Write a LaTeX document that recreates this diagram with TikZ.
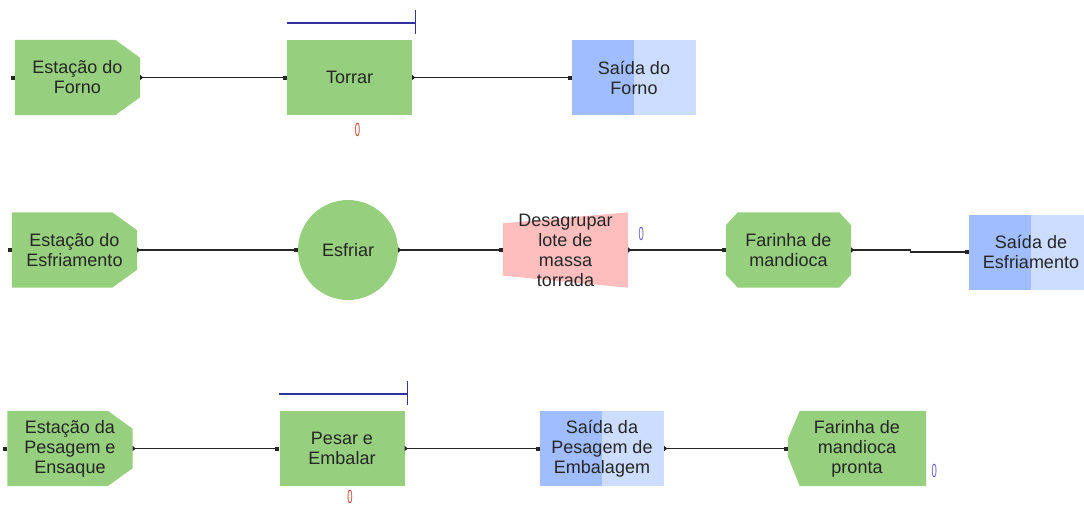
\documentclass[tikz,border=0pt]{standalone}
\usepackage{fontspec}
\setmainfont{Liberation Sans}
\usepackage{xcolor}
\usepackage{tikz}
\usetikzlibrary{arrows.meta}
\definecolor{simgreen}{RGB}{150,207,125}
\definecolor{saidadark}{RGB}{160,190,255}
\definecolor{saidalight}{RGB}{204,221,255}
\definecolor{unpink}{RGB}{255,190,190}
\definecolor{qblue}{RGB}{50,50,160}
\definecolor{cntred}{RGB}{200,70,50}
\definecolor{cntviolet}{RGB}{110,90,200}
\pgfdeclarelayer{bg}
\pgfsetlayers{bg,main}

\begin{document}
\begin{tikzpicture}[x=1pt,y=-1pt,
	every node/.style={font=\fontsize{18}{20}\selectfont, text=black!85, align=center, inner sep=0pt},
	station/.style={minimum width=125pt, minimum height=75pt},
	process/.style={station, fill=simgreen},
	exitbox/.style={station, minimum width=124pt, fill=saidalight,
		path picture={\fill[saidadark] (path picture bounding box.south west) rectangle ([xshift=62pt]path picture bounding box.north west);}},
	link/.style={line width=1.3pt, black!85, {Triangle[reversed,length=3pt,width=5pt]}-{Square[length=4pt,width=4pt]}},
	port/.style={fill=black!85, minimum size=4pt},
	queue/.style={qblue, line width=1.4pt},
	counter/.style={font=\fontsize{19}{19}\selectfont, xscale=0.5, text=cntred}]
		\useasboundingbox (0,0) rectangle (1084,506);

		%% Forno
		\node[station] (est1) at (77.5,77.5) {Esta\c{c}\~ao do\\Forno};
		\node[process] (torrar) at (349.5,77.5) {Torrar};
		\node[exitbox] (saida1) at (634,77.5) {Sa\'ida do\\Forno};

		%% Esfriamento
		\node[station] (est2) at (74.5,250) {Esta\c{c}\~ao do\\Esfriamento};
		\node[circle, fill=simgreen, minimum size=100pt] (esfriar) at (348,250) {Esfriar};
		\node[station] (desag) at (565.5,250) {Desagrupar\\lote de\\massa\\torrada};
		\node[station] (farinha) at (788.5,250) {Farinha de\\mandioca};
		\node[exitbox] (saida2) at (1031,252) {Sa\'ida de\\Esfriamento};

		%% Pesagem
		\node[station] (est3) at (70,448.5) {Esta\c{c}\~ao da\\Pesagem e\\Ensaque};
		\node[process] (pesar) at (342,448.5) {Pesar e\\Embalar};
		\node[exitbox] (saida3) at (602,448.5) {Sa\'ida da\\Pesagem de\\Embalagem};
		\node[station, minimum width=138pt] (pronta) at (857,448.5) {Farinha de\\mandioca\\pronta};

		% shapes behind the texts
		\begin{pgfonlayer}{bg}
			\fill[simgreen] (est1.north west) -- ([xshift=-25pt]est1.north east) -- ([yshift=-18pt]est1.north east)
				-- ([yshift=18pt]est1.south east) -- ([xshift=-25pt]est1.south east) -- (est1.south west) -- cycle;
			\fill[simgreen] (est2.north west) -- ([xshift=-25pt]est2.north east) -- ([yshift=-18pt]est2.north east)
				-- ([yshift=18pt]est2.south east) -- ([xshift=-25pt]est2.south east) -- (est2.south west) -- cycle;
			\fill[simgreen] (est3.north west) -- ([xshift=-25pt]est3.north east) -- ([yshift=-18pt]est3.north east)
				-- ([yshift=18pt]est3.south east) -- ([xshift=-25pt]est3.south east) -- (est3.south west) -- cycle;
			\fill[unpink] ([yshift=-11pt]desag.north west) -- (desag.north east) -- (desag.south east)
				-- ([yshift=12pt]desag.south west) -- cycle;
			\fill[simgreen] ([xshift=12pt]farinha.north west) -- ([xshift=-12pt]farinha.north east)
				-- ([yshift=-13pt]farinha.north east) -- ([yshift=13pt]farinha.south east)
				-- ([xshift=-12pt]farinha.south east) -- ([xshift=12pt]farinha.south west)
				-- ([yshift=13pt]farinha.south west) -- ([yshift=-13pt]farinha.north west) -- cycle;
			\fill[simgreen] ([xshift=12pt]pronta.north west) -- (pronta.north east) -- (pronta.south east)
				-- ([xshift=12pt]pronta.south west) -- ([yshift=30pt]pronta.south west)
				-- ([yshift=-28pt]pronta.north west) -- cycle;
		\end{pgfonlayer}

		%% Queues
		\draw[queue] ([yshift=17pt]torrar.north west) -- ([xshift=3pt,yshift=17pt]torrar.north east)
			([xshift=3pt,yshift=30pt]torrar.north east) -- ([xshift=3pt,yshift=6pt]torrar.north east);
		\draw[queue] ([yshift=17pt]pesar.north west) -- ([xshift=3pt,yshift=17pt]pesar.north east)
			([xshift=3pt,yshift=30pt]pesar.north east) -- ([xshift=3pt,yshift=6pt]pesar.north east);

		%% Counters
		\node[counter] (cnt1) at ([xshift=8pt,yshift=-15pt]torrar.south) {0};
		\node[counter] (cnt2) at ([xshift=8pt,yshift=-11pt]pesar.south) {0};
		\node[counter, text=cntviolet] (cnt3) at ([xshift=13pt,yshift=-22pt]desag.north east) {0};
		\node[counter, text=cntviolet] (cnt4) at ([xshift=8pt,yshift=15pt]pronta.south east) {0};

		%% Entry ports
		\node[port] (in1) at ([xshift=-2pt]est1.west) {};
		\node[port] (in2) at ([xshift=-2pt]est2.west) {};
		\node[port] (in3) at ([xshift=-2pt]est3.west) {};

		%% Routes
		\draw[link] (est1) -- (torrar);
		\draw[link] (torrar) -- (saida1);
		\draw[link] (est2) -- (esfriar);
		\draw[link] (esfriar) -- (desag);
		\draw[link] (desag) -- (farinha);
		\draw[link] (farinha.east) -- ++(59,0) |- (saida2);
		\draw[link] (est3) -- (pesar);
		\draw[link] (pesar) -- (saida3);
		\draw[link] (saida3) -- (pronta);
	\end{tikzpicture}
\end{document}
